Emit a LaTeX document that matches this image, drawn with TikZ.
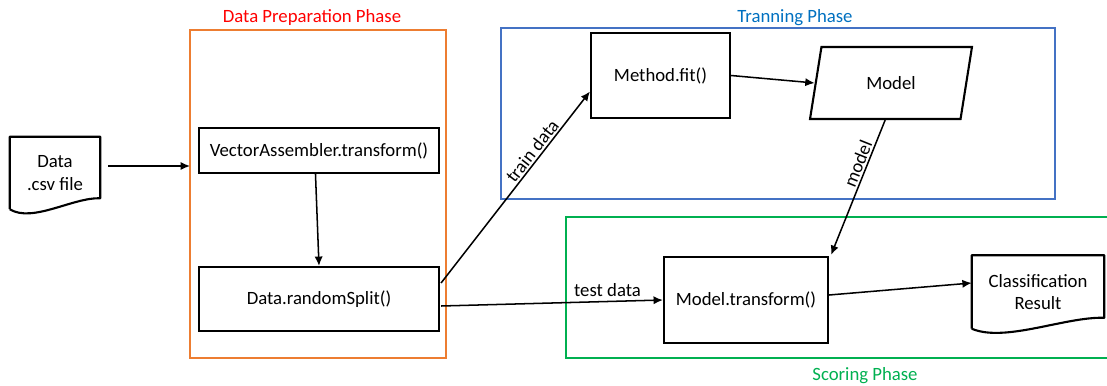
\documentclass[tikz,border=0pt]{standalone}
\usepackage{fontspec}
\setmainfont{Carlito}
\usetikzlibrary{arrows.meta,positioning,shapes.geometric,calc}
\definecolor{prepcolor}{HTML}{ED7D31}
\definecolor{traincolor}{HTML}{4472C4}
\definecolor{scorecolor}{HTML}{00B050}
\definecolor{preptitle}{HTML}{FF0000}
\definecolor{traintitle}{HTML}{0070C0}
\definecolor{scoretitle}{HTML}{00B050}
\tikzset{
  base/.style={align=center, font=\fontsize{16}{19}\selectfont, text=black, inner sep=2pt},
  process/.style={base, draw=black, line width=1.8pt},
  datanode/.style={base, trapezium, trapezium left angle=76, trapezium right angle=104, trapezium stretches=true, draw=black, line width=1.8pt},
  docfile/.style={base},
  docline/.style={draw=black, line width=1.8pt, line join=round},
  phase/.style={line width=1.6pt},
  phasetitle/.style={base},
  edge/.style={-{Latex[length=8pt,width=7pt]}, draw=black, line width=1.3pt},
  edgelabel/.style={base, inner sep=1.5pt},
}

\begin{document}
\begin{tikzpicture}[x=0.03cm,y=-0.03cm]
  \useasboundingbox (0,0) rectangle (1107,385);

  % phase frames
  \draw[phase, prepcolor] (190,30) rectangle (446,358);
  \draw[phase, traincolor] (501,28) rectangle (1055,199);
  \draw[phase, scorecolor] (566,217) rectangle (1110,358);

  \node[phasetitle, text=preptitle] (preptitle) at (312,18) {Data Preparation Phase};
  \node[phasetitle, text=traintitle] (traintitle) at (795,18) {Tranning Phase};
  \node[phasetitle, text=scoretitle] (scoretitle) at (865,376) {Scoring Phase};

  % documents
  \node[docfile, minimum width=2.7cm, minimum height=2.16cm] (datafile) at (55,173) {Data\\ .csv file};
  \node[docfile, minimum width=3.96cm, minimum height=2.19cm] (result) at (1038,292) {Classification\\ Result};
  \foreach \n in {datafile,result}
    \draw[docline] (\n.south west) -- (\n.north west) -- (\n.north east) -- ($(\n.south east)+(0,-11)$)
      .. controls ($(\n.south east)!0.3!(\n.south west)+(0,-12)$) and ($(\n.south west)!0.25!(\n.south east)+(0,14)$) .. (\n.south west);

  % process steps
  \node[process, minimum width=7.2cm, minimum height=1.35cm] (assembler) at (319,150.5) {VectorAssembler.transform()};
  \node[process, minimum width=7.2cm, minimum height=1.92cm] (split) at (319,299) {Data.randomSplit()};
  \node[process, minimum width=4.17cm, minimum height=2.55cm] (fit) at (660.5,75.5) {Method.fit()};
  \node[datanode, minimum width=4.86cm, minimum height=2.16cm] (model) at (891,83) {Model};
  \node[process, minimum width=4.92cm, minimum height=2.58cm] (transform) at (746,300) {Model.transform()};

  \coordinate (prepin) at (190,166);

  \draw[edge] ($(datafile.east)+(8,-7)$) -- (prepin);
  \draw[edge] ([xshift=-3]assembler.south) -- (split.north);
  \draw[edge] ($(split.east)+(1,-16)$) -- node[edgelabel, sloped, above, pos=0.66] {train data} ($(fit.west)+(0,16)$);
  \draw[edge] (fit.east) -- (model.west);
  \draw[edge] ([xshift=-5]model.south) -- node[edgelabel, sloped, above, pos=0.35] {model} ($(transform.north east)+(2,-1)$);
  \draw[edge] ($(split.east)+(1,7)$) -- node[edgelabel, above=2pt, pos=0.75] {test data} (transform.west);
  \draw[edge] ($(transform.east)+(0,-5)$) -- ($(result.west)+(0,-9)$);
\end{tikzpicture}
\end{document}
